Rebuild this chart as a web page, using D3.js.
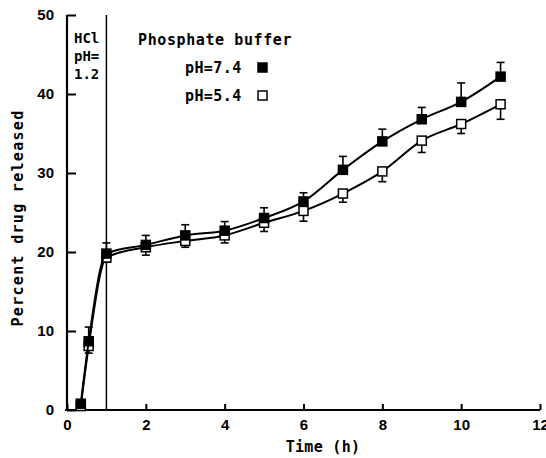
<!DOCTYPE html>
<html>
<head>
<meta charset="utf-8">
<script src="https://cdn.jsdelivr.net/npm/d3@7"></script>
<style>
  body { margin: 0; background: #fff; }
  .mono { font-family: "DejaVu Sans Mono", monospace; font-weight: bold; }
  .tick text { font-family: "Liberation Sans", Arial, sans-serif; font-weight: bold; font-size: 15px; }
</style>
</head>
<body>
<div id="chart"></div>
<script>
// time points (h)
var times = [0.35, 0.55, 1, 2, 3, 4, 5, 6, 7, 8, 9, 10, 11];
// pH 7.4 (filled squares) and upward error
var ph74 = [0.8, 8.7, 19.8, 20.9, 22.1, 22.7, 24.3, 26.4, 30.4, 34.0, 36.8, 39.0, 42.2];
var ph74Err = [0, 1.8, 1.35, 1.2, 1.35, 1.15, 1.3, 1.1, 1.7, 1.55, 1.5, 2.4, 1.8];
// pH 5.4 (open squares) and downward error
var ph54 = [0.5, 8.1, 19.3, 20.6, 21.4, 22.1, 23.7, 25.2, 27.4, 30.2, 34.1, 36.2, 38.7];
var ph54Err = [0, 0.9, 0.6, 1.0, 0.8, 0.95, 1.1, 1.3, 1.1, 1.3, 1.5, 1.2, 1.9];
var xTicks = [0, 2, 4, 6, 8, 10, 12];
var yTicks = [0, 10, 20, 30, 40, 50];

var W = 546, H = 458;
var svg = d3.select("#chart").append("svg")
    .attr("width", W)
    .attr("height", H);

var x = d3.scaleLinear().domain([0, 12]).range([67, 540]);
var y = d3.scaleLinear().domain([0, 50]).range([410, 15]);

// axes
var xAxis = svg.append("g")
    .attr("transform", "translate(0," + y(0) + ")")
    .call(d3.axisBottom(x).tickValues(xTicks).tickSize(-6).tickPadding(9).tickFormat(d3.format("d")));
var yAxis = svg.append("g")
    .attr("transform", "translate(" + x(0) + ",0)")
    .call(d3.axisLeft(y).tickValues(yTicks).tickSize(-9).tickPadding(13).tickFormat(d3.format("d")));

[xAxis, yAxis].forEach(function (a) {
    a.select(".domain").attr("stroke", "#000").attr("stroke-width", 2.2).attr("d", null);
    a.selectAll(".tick line").attr("stroke", "#000").attr("stroke-width", 2);
    a.selectAll(".tick text").attr("fill", "#000");
});
xAxis.select(".domain").attr("d", "M" + (x(0) - 2) + ",0H" + x(12));
yAxis.select(".domain").attr("d", "M0," + y(0) + "V" + y(50));
xAxis.selectAll(".tick text").attr("dy", "0.71em");

// HCl boundary line at 1 h
svg.append("line")
    .attr("x1", x(1)).attr("x2", x(1))
    .attr("y1", y(50)).attr("y2", y(0))
    .attr("stroke", "#000").attr("stroke-width", 1.5);

var line = d3.line()
    .x(function (d) { return x(d[0]); })
    .y(function (d) { return y(d[1]); })
    .curve(d3.curveMonotoneX);

function series(vals, errs, dir, filled) {
    var pts = times.map(function (t, i) { return [t, vals[i], errs[i]]; });
    svg.append("path")
        .datum(pts)
        .attr("d", line)
        .attr("fill", "none")
        .attr("stroke", "#000")
        .attr("stroke-width", 2);

    var eb = svg.append("g").selectAll("g")
        .data(pts.filter(function (d) { return d[2] > 0; }))
        .enter().append("g");
    eb.append("line")
        .attr("x1", function (d) { return x(d[0]); })
        .attr("x2", function (d) { return x(d[0]); })
        .attr("y1", function (d) { return y(d[1]); })
        .attr("y2", function (d) { return y(d[1] + dir * d[2]); })
        .attr("stroke", "#000").attr("stroke-width", 1.6);
    eb.append("line")
        .attr("x1", function (d) { return x(d[0]) - 4; })
        .attr("x2", function (d) { return x(d[0]) + 4; })
        .attr("y1", function (d) { return y(d[1] + dir * d[2]); })
        .attr("y2", function (d) { return y(d[1] + dir * d[2]); })
        .attr("stroke", "#000").attr("stroke-width", 1.6);

    svg.append("g").selectAll("rect")
        .data(pts)
        .enter().append("rect")
        .attr("x", function (d) { return x(d[0]) - 4.5; })
        .attr("y", function (d) { return y(d[1]) - 4.5; })
        .attr("width", 9)
        .attr("height", 9)
        .attr("fill", filled ? "#000" : "#fff")
        .attr("stroke", "#000")
        .attr("stroke-width", 1.5);
}

series(ph54, ph54Err, -1, false);
series(ph74, ph74Err, 1, true);

// labels
svg.append("text").attr("class", "mono")
    .attr("x", 18).attr("y", 218)
    .attr("transform", "rotate(-90,18,218)")
    .attr("text-anchor", "middle")
    .attr("dominant-baseline", "middle")
    .style("font-size", "15px").style("letter-spacing", "1.3px")
    .text("Percent drug released");

svg.append("text").attr("class", "mono")
    .attr("x", 323).attr("y", 452)
    .attr("text-anchor", "middle")
    .style("font-size", "15px").style("letter-spacing", "0.3px")
    .text("Time (h)");

var hcl = ["HCl", "pH=", "1.2"];
svg.append("g").selectAll("text")
    .data(hcl)
    .enter().append("text").attr("class", "mono")
    .attr("x", 74)
    .attr("y", function (d, i) { return 43 + i * 18; })
    .style("font-size", "14px")
    .text(function (d) { return d; });

svg.append("text").attr("class", "mono")
    .attr("x", 138).attr("y", 45)
    .style("font-size", "15px").style("letter-spacing", "0.6px")
    .text("Phosphate buffer");

var legend = [["pH=7.4", true], ["pH=5.4", false]];
var lg = svg.append("g").selectAll("g")
    .data(legend)
    .enter().append("g")
    .attr("transform", function (d, i) { return "translate(0," + (73 + i * 28) + ")"; });
lg.append("text").attr("class", "mono")
    .attr("x", 185).attr("y", 0)
    .style("font-size", "15px").style("letter-spacing", "0.4px")
    .text(function (d) { return d[0]; });
lg.append("rect")
    .attr("x", 258).attr("y", -10)
    .attr("width", 9).attr("height", 9)
    .attr("fill", function (d) { return d[1] ? "#000" : "#fff"; })
    .attr("stroke", "#000").attr("stroke-width", 1.5);
</script>
</body>
</html>
